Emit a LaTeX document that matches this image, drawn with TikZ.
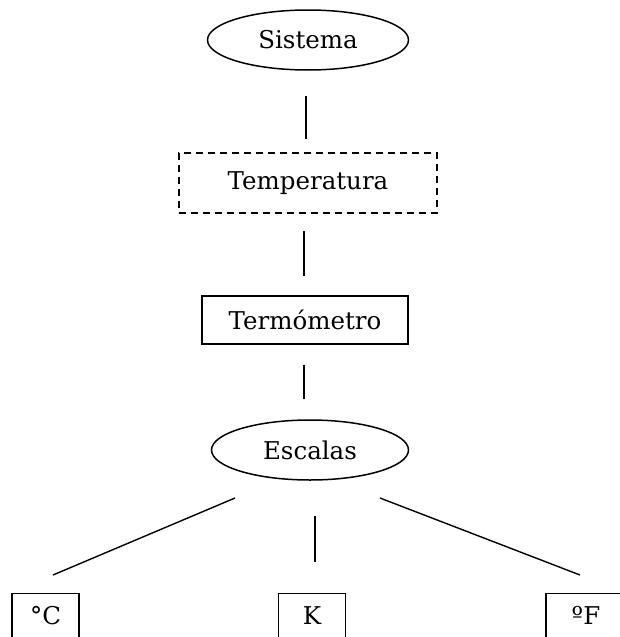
\documentclass[tikz,border=0pt]{standalone}
\usepackage{fontspec}
\setmainfont{DejaVu Serif}
\usetikzlibrary{shapes.geometric}
\tikzset{
  every node/.style={font=\fontsize{24.5}{28}\selectfont, text=black},
  oval/.style={draw, ellipse, line width=1.5pt, inner sep=0pt},
  boxed/.style={draw, rectangle, line width=1.3pt, inner sep=0pt},
  dashbox/.style={boxed, dash pattern=on 7pt off 5pt, line width=1.5pt},
  unitbox/.style={draw, rectangle, line width=1.3pt, inner sep=0pt, anchor=north,
    minimum width=67pt, text height=31pt, text depth=40pt},
  link/.style={line width=1.4pt}
}
\begin{document}
\begin{tikzpicture}[x=1pt, y=-1pt]
  \useasboundingbox (0,0) rectangle (620,637);
  \clip (0,0) rectangle (620,637);

  \node[oval, minimum width=201pt, minimum height=60pt] (sis) at (308,40) {Sistema};
  \node[dashbox, minimum width=258pt, minimum height=60pt] (tem) at (308,183) {Temperatura};
  \node[boxed, minimum width=206pt, minimum height=48pt] (ter) at (305,320) {Termómetro};
  \node[oval, minimum width=197pt, minimum height=60pt] (esc) at (310,450) {Escalas};

  \node[unitbox] (uc) at (45.5,593) {°C};
  \node[unitbox] (uk) at (312,593) {K};
  \node[unitbox, minimum width=80pt] (uf) at (586,593) {ºF};

  % vertical chain
  \draw[link] ([xshift=-2pt, yshift=-25pt]sis.south) -- ([xshift=-2pt, yshift=13pt]tem.north);
  \draw[link] ([xshift=-4pt, yshift=-17pt]tem.south) -- ([xshift=-1pt, yshift=19pt]ter.north);
  \draw[link] ([xshift=-1pt, yshift=-20pt]ter.south) -- ([xshift=-6pt, yshift=20pt]esc.north);

  % branches to the scales
  \draw[link] ([xshift=-75pt, yshift=-48pt]esc.center) -- ([xshift=7.5pt, yshift=18pt]uc.north);
  \draw[link] ([xshift=5pt, yshift=-35pt]esc.south) -- ([xshift=3pt, yshift=31pt]uk.north);
  \draw[link] ([xshift=70pt, yshift=-48pt]esc.center) -- ([xshift=-6pt, yshift=18pt]uf.north);
\end{tikzpicture}
\end{document}
